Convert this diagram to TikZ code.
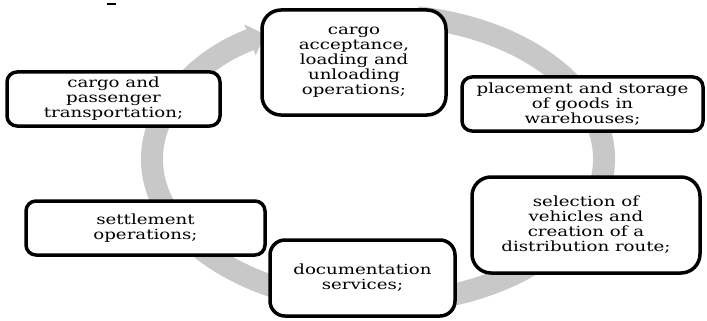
\documentclass[tikz,border=0pt]{standalone}
\usepackage{fontspec}
\setmainfont[FakeStretch=1.3]{DejaVu Serif}
\usetikzlibrary{arrows.meta}
\definecolor{ringgrey}{RGB}{200,200,200}
\tikzset{
  stagebox/.style={draw=black, line width=3.5pt, fill=white, rectangle,
    align=center, inner sep=0pt, font=\fontsize{14}{15}\selectfont},
  cyclering/.style={draw=ringgrey, line width=22pt,
    -{Triangle[width=32pt,length=16pt]}}
}
\begin{document}
\begin{tikzpicture}[x=1pt,y=-1pt]
  \useasboundingbox (0,0) rectangle (707,321);
  % grey cycle arrow running clockwise behind the stages
  \coordinate (c) at (378,159);
  \draw[cyclering] (c) ++(-80:226 and 144)
    arc[start angle=-80, end angle=240, x radius=226, y radius=144];
  % stray mark at the top
  \coordinate (m1) at (107,4);
  \coordinate (m2) at (116,4);
  \draw[line width=1.2pt] (m1) -- (m2);
  % stages of the cycle
  \node[stagebox, rounded corners=10pt, minimum width=213pt, minimum height=54pt]
    (transport) at (113.5,99) {cargo and\\passenger\\transportation;};
  \node[stagebox, rounded corners=19pt, minimum width=184pt, minimum height=105pt]
    (acceptance) at (354,62.5) {cargo\\acceptance,\\loading and\\unloading\\operations;};
  \node[stagebox, rounded corners=10pt, minimum width=241pt, minimum height=54pt]
    (storage) at (582.5,104) {placement and storage\\of goods in\\warehouses;};
  \node[stagebox, rounded corners=19pt, minimum width=228pt, minimum height=96pt]
    (vehicles) at (586,225) {selection of\\vehicles and\\creation of a\\distribution route;};
  \node[stagebox, rounded corners=15pt, minimum width=185pt, minimum height=76pt]
    (documents) at (362.5,278) {documentation\\services;};
  \node[stagebox, rounded corners=10pt, minimum width=239pt, minimum height=54pt]
    (settlement) at (145.5,228) {settlement\\operations;};
\end{tikzpicture}
\end{document}
